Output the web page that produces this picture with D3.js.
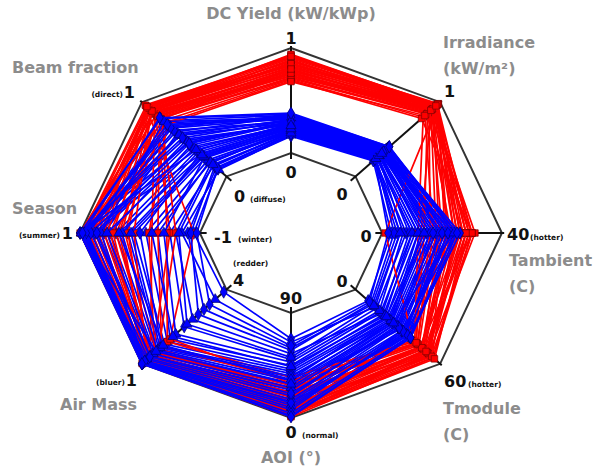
<!DOCTYPE html>
<html>
<head>
<meta charset="utf-8">
<script src="https://d3js.org/d3.v7.min.js"></script>
<style>
  body { margin: 0; background: #fff; }
  text { font-family: "DejaVu Sans", Verdana, sans-serif; font-weight: bold; }
</style>
</head>
<body>
<div id="chart"></div>
<script>
var width = 602,
    height = 468

var cx = 291, cy = 233
var rIn = 80, rOut = 185, sx = 1.14

// axes, clockwise from the top
var axisNames = ["DC Yield", "Irradiance", "Tambient", "Tmodule", "AOI", "Air Mass", "Season", "Beam fraction"]
var innerVals = [0, 0, 0, 0, 90, 4, -1, 0]
var outerVals = [1, 1, 40, 60, 0, 1, 1, 1]

// high-yield days (red)
var yieldHi  = [0.93, 0.90, 0.88, 0.86, 0.85, 0.84, 0.82, 0.80, 0.79, 0.78, 0.77, 0.76, 0.75, 0.74, 0.72, 0.71, 0.70, 0.69, 0.91, 0.87, 0.83, 0.81, 0.89, 0.73, 0.94, 0.68, 0.76, 0.85, 0.80, 0.92]
var irrHi    = [0.97, 0.96, 0.95, 0.94, 0.93, 0.96, 0.92, 0.91, 0.90, 0.93, 0.89, 0.88, 0.87, 0.86, 0.85, 0.84, 0.80, 0.78, 0.98, 0.97, 0.95, 0.94, 0.92, 0.90, 0.96, 0.82, 0.91, 0.97, 0.89, 0.95]
var tambHi   = [29, 27, 30, 25, 28, 22, 24, 31, 20, 26, 18, 29, 16, 23, 14, 27, 12, 30, 1, 21, 25, 28, 19, 30, 24, 17, 22, 26, 13, 28]
var tmodHi   = [55, 53, 54, 51, 50, 49, 48, 52, 47, 46, 45, 50, 44, 47, 43, 49, 42, 46, 41, 53, 52, 51, 48, 55, 54, 44, 47, 50, 43, 56]
var aoiHi    = [4, 8, 12, 6, 15, 10, 18, 3, 22, 9, 25, 5, 28, 14, 32, 2, 35, 20, 30, 7, 11, 16, 13, 1, 5, 26, 19, 8, 24, 3]
var amHi     = [1.05, 1.1, 1.15, 1.08, 1.2, 1.12, 1.25, 1.02, 1.3, 1.1, 1.4, 1.05, 1.5, 1.18, 1.7, 1.03, 1.9, 1.35, 2.0, 1.1, 1.13, 1.22, 1.16, 1.01, 1.06, 1.45, 1.28, 1.09, 1.6, 1.04]
var seasonHi = [0.95, 0.85, 0.7, 0.9, 0.6, 0.3, 0.2, 1.0, -0.2, 0.8, -0.5, 0.95, 0.25, 0.5, -0.3, 0.9, -0.45, 0.4, -0.9, 0.65, 0.75, 0.55, 0.1, 0.98, 0.85, -0.15, 0.35, 0.45, -0.6, 0.92]
var beamHi   = [0.95, 0.93, 0.92, 0.90, 0.91, 0.89, 0.88, 0.86, 0.85, 0.87, 0.84, 0.83, 0.82, 0.80, 0.79, 0.78, 0.75, 0.72, 0.96, 0.94, 0.93, 0.90, 0.89, 0.86, 0.92, 0.70, 0.81, 0.88, 0.77, 0.94]

// low-yield days (blue)
var yieldLo  = [0.30, 0.25, 0.35, 0.20, 0.28, 0.32, 0.18, 0.22, 0.36, 0.26, 0.16, 0.29, 0.24, 0.33, 0.19, 0.27, 0.31, 0.21, 0.34, 0.23, 0.29, 0.17, 0.37, 0.26, 0.30, 0.22, 0.28, 0.35, 0.20, 0.32, 0.25, 0.33, 0.18, 0.27, 0.31, 0.21, 0.36, 0.24, 0.29, 0.19, 0.34, 0.23, 0.30, 0.26, 0.38]
var irrLo    = [0.35, 0.30, 0.38, 0.25, 0.33, 0.36, 0.22, 0.28, 0.39, 0.31, 0.21, 0.34, 0.29, 0.37, 0.23, 0.32, 0.35, 0.26, 0.38, 0.27, 0.33, 0.22, 0.40, 0.30, 0.34, 0.27, 0.33, 0.37, 0.24, 0.36, 0.29, 0.38, 0.23, 0.31, 0.35, 0.25, 0.39, 0.28, 0.34, 0.24, 0.36, 0.28, 0.33, 0.31, 0.40]
var tambLo   = [22, 18, 24, 10, 15, 20, 5, 12, 25, 17, 3, 21, 14, 23, 8, 19, 16, 11, 26, 9, 20, 6, 24, 13, 22, 7, 18, 21, 4, 25, 15, 19, 2, 16, 23, 10, 26, 12, 20, 6, 22, 14, 17, 24, 25]
var tmodLo   = [35, 28, 38, 18, 25, 33, 12, 22, 39, 27, 9, 31, 24, 36, 15, 29, 30, 20, 37, 19, 32, 14, 39, 26, 34, 17, 28, 35, 11, 33, 23, 36, 10, 26, 34, 21, 38, 25, 30, 13, 37, 22, 31, 27, 39]
var aoiLo    = [10, 20, 5, 45, 30, 8, 60, 40, 3, 25, 68, 15, 35, 12, 50, 18, 22, 42, 6, 55, 28, 65, 2, 32, 14, 48, 24, 9, 58, 16, 38, 11, 62, 26, 7, 44, 4, 36, 19, 52, 13, 33, 21, 29, 1]
var amLo     = [1.05, 1.2, 1.02, 2.0, 1.5, 1.1, 3.2, 1.8, 1.0, 1.3, 3.9, 1.15, 1.6, 1.08, 2.5, 1.25, 1.35, 1.9, 1.03, 2.8, 1.45, 3.6, 1.01, 1.55, 1.12, 2.2, 1.3, 1.06, 3.0, 1.18, 1.7, 1.09, 3.4, 1.4, 1.04, 2.1, 1.02, 1.65, 1.22, 2.6, 1.1, 1.75, 1.28, 1.5, 1.0]
var seasonLo = [1.0, 0.9, 0.95, -0.3, 0.4, 0.85, -0.8, 0.1, 1.0, 0.7, -0.9, 0.95, 0.2, 0.8, -0.5, 0.98, 0.6, -0.1, 0.9, -0.6, 0.5, -0.7, 1.0, 0.3, 0.88, -0.4, 0.75, 0.92, -0.85, 0.97, 0.0, 0.65, -0.95, 0.55, 1.0, -0.2, 0.93, 0.15, 0.82, -0.65, 0.9, 0.35, 0.72, 0.98, 0.96]
var beamLo   = [0.45, 0.30, 0.60, 0.20, 0.35, 0.70, 0.12, 0.25, 0.75, 0.40, 0.10, 0.55, 0.28, 0.65, 0.15, 0.50, 0.58, 0.22, 0.72, 0.18, 0.42, 0.09, 0.78, 0.33, 0.62, 0.26, 0.48, 0.68, 0.14, 0.56, 0.31, 0.74, 0.11, 0.38, 0.52, 0.19, 0.66, 0.27, 0.46, 0.16, 0.70, 0.29, 0.44, 0.36, 0.79]

var hiCols = [yieldHi, irrHi, tambHi, tmodHi, aoiHi, amHi, seasonHi, beamHi]
var loCols = [yieldLo, irrLo, tambLo, tmodLo, aoiLo, amLo, seasonLo, beamLo]

function rows(cols, group) {
  return cols[0].map(function(_, i) {
    return { group: group, idx: i, values: cols.map(function(c) { return c[i] }) }
  })
}
var hiRows = rows(hiCols, "hi")
var loRows = rows(loCols, "lo")
// drawing order: part of the blue, then red, then the rest of the blue
var series = loRows.slice(0, 22).concat(hiRows).concat(loRows.slice(22))

var scales = axisNames.map(function(n, i) {
  return d3.scaleLinear().domain([innerVals[i], outerVals[i]]).range([rIn, rOut])
})

function pt(i, r) {
  var a = i * Math.PI / 4
  return [cx + sx * r * Math.sin(a), cy - r * Math.cos(a)]
}

var svg = d3.select("#chart")
  .append("svg")
    .attr("width", width)
    .attr("height", height)

var line = d3.line().curve(d3.curveLinearClosed)

// octagons
;[rIn, rOut].forEach(function(r) {
  svg.append("path")
    .attr("d", line(axisNames.map(function(n, i) { return pt(i, r) })))
    .attr("fill", "none")
    .attr("stroke", "#333")
    .attr("stroke-width", 2)
})

// axes
svg.selectAll("allAxes")
  .data(axisNames)
  .enter()
  .append("line")
    .attr("x1", function(d, i) { return pt(i, rIn - 6)[0] })
    .attr("y1", function(d, i) { return pt(i, rIn - 6)[1] })
    .attr("x2", function(d, i) { return pt(i, rOut + 2)[0] })
    .attr("y2", function(d, i) { return pt(i, rOut + 2)[1] })
    .attr("stroke", "#111")
    .attr("stroke-width", 2)

var colors = { hi: "#ff0000", lo: "#0000ff" }
var edges = { hi: "#7a0000", lo: "#00006e" }

var groups = svg.selectAll("allSeries")
  .data(series)
  .enter()
  .append("g")

groups.append("path")
  .attr("d", function(d) {
    return line(d.values.map(function(v, i) { return pt(i, scales[i](v)) }))
  })
  .attr("fill", "none")
  .attr("stroke", function(d) { return colors[d.group] })
  .attr("stroke-width", 1.7)

var shapesLo = [d3.symbolDiamond, d3.symbolTriangle]
groups.selectAll("mark")
  .data(function(d) {
    return d.values.map(function(v, i) { return { s: d, i: i, v: v } })
  })
  .enter()
  .append("path")
    .attr("transform", function(d) {
      var p = pt(d.i, scales[d.i](d.v))
      return "translate(" + p[0] + "," + p[1] + ")"
    })
    .attr("d", function(d) {
      var t = d.s.group == "hi" ? d3.symbolSquare : shapesLo[d.s.idx % 2]
      return d3.symbol().type(t).size(d.s.group == "hi" ? 42 : 44)()
    })
    .attr("fill", function(d) { return colors[d.s.group] })
    .attr("stroke", function(d) { return edges[d.s.group] })
    .attr("stroke-width", 0.7)

// axis titles
var titles = [
  ["DC Yield (kW/kWp)", 291, 19, "middle"],
  ["Irradiance", 443, 48, "start"],
  ["(kW/m²)", 443, 74, "start"],
  ["Tambient", 509, 266, "start"],
  ["(C)", 509, 292, "start"],
  ["Tmodule", 443, 414, "start"],
  ["(C)", 443, 440, "start"],
  ["AOI (°)", 291, 463, "middle"],
  ["Air Mass", 60, 410, "start"],
  ["Season", 12, 214, "start"],
  ["Beam fraction", 12, 73, "start"]
]
svg.selectAll("allTitles")
  .data(titles)
  .enter()
  .append("text")
    .text(function(d) { return d[0] })
    .attr("x", function(d) { return d[1] })
    .attr("y", function(d) { return d[2] })
    .style("text-anchor", function(d) { return d[3] })
    .style("font-size", "16px")
    .style("fill", "#8c8c8c")

// tick values
var ticks = [
  ["1", 291, 44, "middle"],
  ["1", 444, 97, "start"],
  ["40", 507, 240, "start"],
  ["60", 444, 387, "start"],
  ["0", 291, 438, "middle"],
  ["1", 137, 386, "end"],
  ["1", 73, 239, "end"],
  ["1", 135, 98, "end"],
  ["0", 291, 178, "middle"],
  ["0", 342, 200, "middle"],
  ["0", 366, 242, "middle"],
  ["0", 342, 287, "middle"],
  ["90", 291, 304, "middle"],
  ["4", 233, 286, "start"],
  ["-1", 214, 243, "start"],
  ["0", 234, 202, "start"]
]
svg.selectAll("allTicks")
  .data(ticks)
  .enter()
  .append("text")
    .text(function(d) { return d[0] })
    .attr("x", function(d) { return d[1] })
    .attr("y", function(d) { return d[2] })
    .style("text-anchor", function(d) { return d[3] })
    .style("font-size", "16px")
    .style("fill", "#111")

// small notes
var notes = [
  ["(hotter)", 530, 240, "start"],
  ["(hotter)", 468, 387, "start"],
  ["(normal)", 302, 438, "start"],
  ["(bluer)", 125, 385, "end"],
  ["(summer)", 60, 238, "end"],
  ["(direct)", 123, 97, "end"],
  ["(redder)", 233, 266, "start"],
  ["(winter)", 238, 242, "start"],
  ["(diffuse)", 250, 202, "start"]
]
svg.selectAll("allNotes")
  .data(notes)
  .enter()
  .append("text")
    .text(function(d) { return d[0] })
    .attr("x", function(d) { return d[1] })
    .attr("y", function(d) { return d[2] })
    .style("text-anchor", function(d) { return d[3] })
    .style("font-size", "7.5px")
    .style("fill", "#111")
</script>
</body>
</html>
